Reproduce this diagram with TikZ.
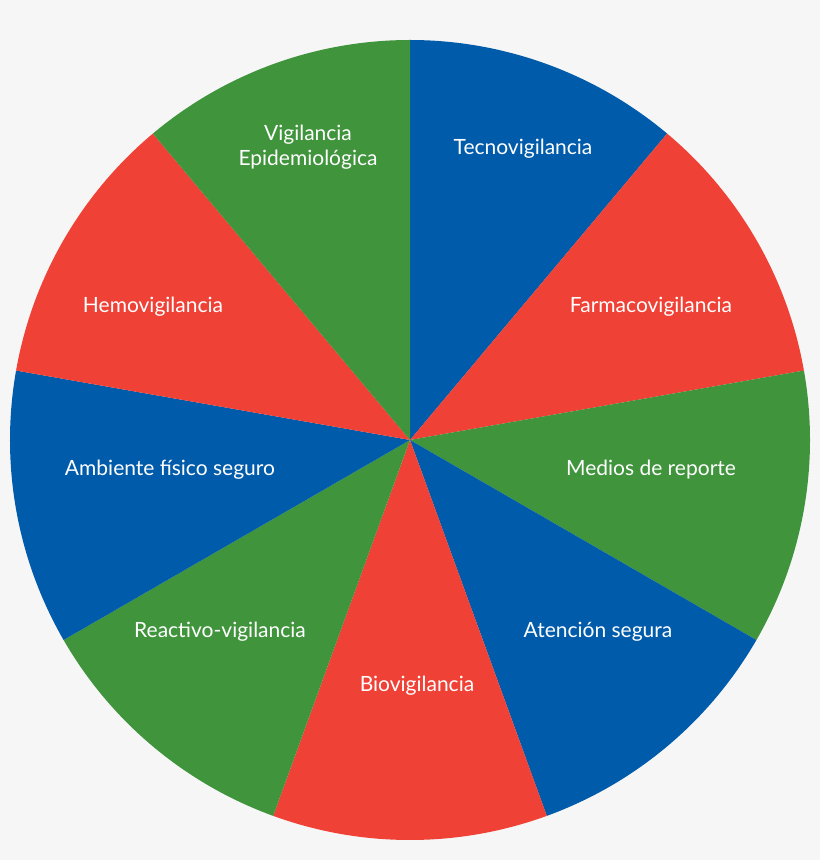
\documentclass[tikz,border=0pt]{standalone}
\usepackage{fontspec}
\setmainfont{Lato}
\usepackage{tikz}
\usetikzlibrary{calc}
\definecolor{pieblue}{HTML}{005BAA}
\definecolor{piered}{HTML}{EF4136}
\definecolor{piegreen}{HTML}{3F943C}
\definecolor{bggray}{HTML}{F6F6F6}
\tikzset{lbl/.style={text=white,font=\fontsize{21}{25}\selectfont,align=center}}

\begin{document}
\begin{tikzpicture}
    [x=1pt,y=1pt]
    
    \fill[bggray] (0,0) rectangle (820,860);
    \useasboundingbox (0,0) rectangle (820,860);
    \coordinate (O) at (410,420);
    
    \fill[pieblue]  (O) -- ++(90:400)  arc[start angle=90,  end angle=50,   radius=400] -- cycle;
    \fill[piered]   (O) -- ++(50:400)  arc[start angle=50,  end angle=10,   radius=400] -- cycle;
    \fill[piegreen] (O) -- ++(10:400)  arc[start angle=10,  end angle=-30,  radius=400] -- cycle;
    \fill[pieblue]  (O) -- ++(-30:400) arc[start angle=-30, end angle=-70,  radius=400] -- cycle;
    \fill[piered]   (O) -- ++(-70:400) arc[start angle=-70, end angle=-110, radius=400] -- cycle;
    \fill[piegreen] (O) -- ++(-110:400) arc[start angle=-110, end angle=-150, radius=400] -- cycle;
    \fill[pieblue]  (O) -- ++(-150:400) arc[start angle=-150, end angle=-190, radius=400] -- cycle;
    \fill[piered]   (O) -- ++(170:400) arc[start angle=170, end angle=130,  radius=400] -- cycle;
    \fill[piegreen] (O) -- ++(130:400) arc[start angle=130, end angle=90,   radius=400] -- cycle;
    
    \node[lbl] (tecno)   at (523,711) {Tecnovigilancia};
    \node[lbl] (farmaco) at (651,553) {Farmacovigilancia};
    \node[lbl] (medios)  at (651,390) {Medios de reporte};
    \node[lbl] (atencion) at (598,228) {Atención segura};
    \node[lbl] (bio)     at (417,174) {Biovigilancia};
    \node[lbl] (reactivo) at (220,228) {Reactivo-vigilancia};
    \node[lbl] (ambiente) at (170,390) {Ambiente físico seguro};
    \node[lbl] (hemo)    at (153,553) {Hemovigilancia};
    \node[lbl] (epi)     at (308,713) {Vigilancia\\Epidemiológica};
  \end{tikzpicture}
\end{document}
